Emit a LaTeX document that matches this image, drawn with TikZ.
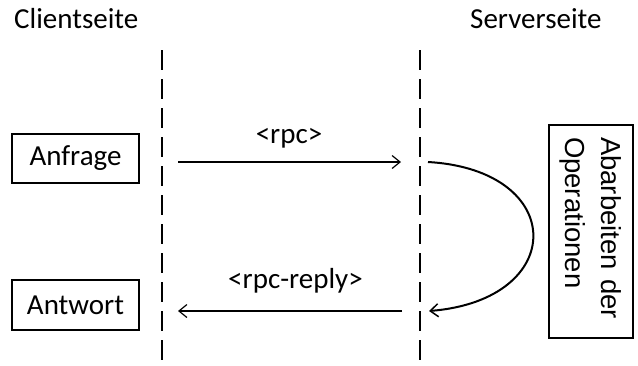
\documentclass[tikz,border=0pt]{standalone}
\usepackage{fontspec}
\setmainfont{Carlito}
\newfontfamily\rotfont{Liberation Sans}
\usetikzlibrary{arrows.meta}
\begin{document}
\begin{tikzpicture}[x=1pt,y=-1pt,
  every node/.style={font=\fontsize{29}{35}\selectfont},
  box/.style={draw,line width=1.8pt,inner sep=0pt},
  lifeline/.style={line width=2.4pt,dash pattern=on 20pt off 9pt},
  msg/.style={line width=1.2pt,-{Straight Barb[length=8pt,width=13pt,line width=1.2pt]}},
  loop/.style={line width=2pt,-{Straight Barb[length=8pt,width=13pt,line width=1.5pt]}},
  lbl/.style={anchor=base,inner sep=0pt}]
\useasboundingbox (0,0) rectangle (638,365);
% headings
\node[lbl,anchor=base west] (client) at (14,28) {Clientseite};
\node[lbl,anchor=base west] (server) at (470,28) {Serverseite};
% lifelines
\coordinate (cl-top) at (162,50);
\coordinate (cl-bot) at (162,365);
\coordinate (sv-top) at (420,50);
\coordinate (sv-bot) at (420,365);
\draw[lifeline] (cl-top) -- (cl-bot);
\draw[lifeline] (sv-top) -- (sv-bot);
% client boxes
\node[box,minimum width=127pt,minimum height=49pt] (anfrage) at (75.5,158.5) {Anfrage};
\node[box,minimum width=127pt,minimum height=50pt] (antwort) at (75.5,305) {Antwort};
% server box
\node[box,rotate=-90,minimum width=213pt,minimum height=84pt,text width=189pt,align=left,inner xsep=12pt,font=\rotfont\fontsize{27.5}{36}\selectfont] (ops) at (591,231.5) {Abarbeiten der\\Operationen};
% messages
\coordinate (req-s) at (178,162);
\coordinate (req-e) at (401,162);
\coordinate (rep-s) at (402,311);
\coordinate (rep-e) at (178,311);
\draw[msg] (req-s) -- (req-e);
\draw[msg] (rep-s) -- (rep-e);
\node[lbl] (rpc) at (289,143) {<rpc>};
\node[lbl] (rpcreply) at (295.5,288) {<rpc-reply>};
% processing loop
\coordinate (loop-s) at (428,162);
\coordinate (loop-e) at (429,311);
\draw[loop] (loop-s) .. controls (568,170) and (568,300) .. (loop-e);
\end{tikzpicture}
\end{document}
